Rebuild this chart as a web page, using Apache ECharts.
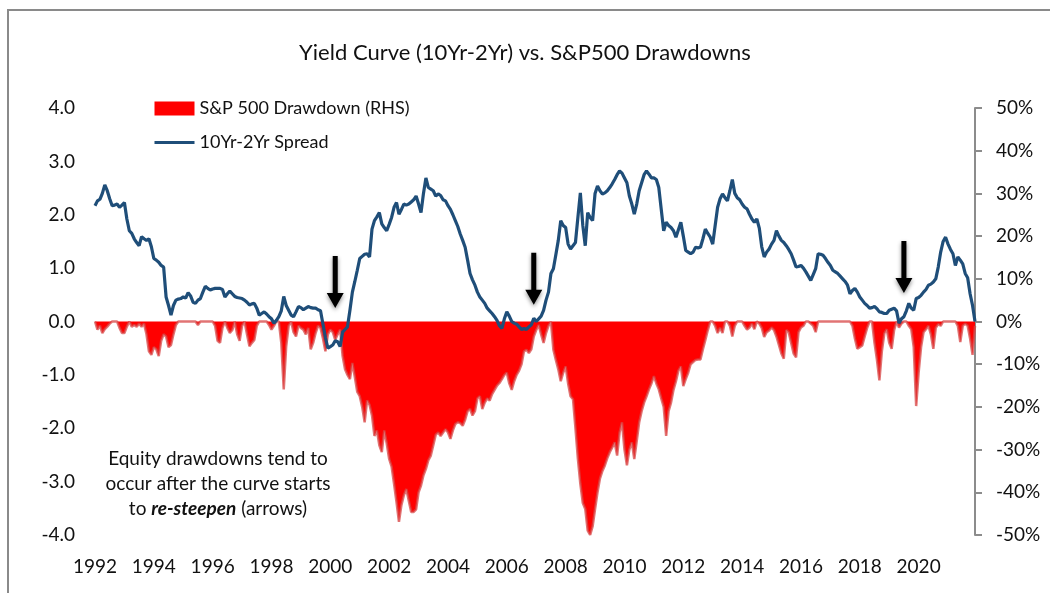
<!DOCTYPE html>
<html style="height: 100%">

<head>
    <meta charset="utf-8">
</head>

<body style="height: 100%; margin: 0">

    <div id="container" style="width: 1050px; height: 593px"></div>

    <script type="text/javascript" src="https://cdn.jsdelivr.net/npm/echarts@6/dist/echarts.min.js"></script>

    <script type="text/javascript">
        // monthly data, Jan 1992 .. Dec 2021
        var years = [1992, 1993, 1994, 1995, 1996, 1997, 1998, 1999, 2000, 2001,
            2002, 2003, 2004, 2005, 2006, 2007, 2008, 2009, 2010, 2011,
            2012, 2013, 2014, 2015, 2016, 2017, 2018, 2019, 2020, 2021];

        // 10Yr-2Yr spread (LHS)
        var spread = [
            2.17, 2.26, 2.29, 2.40, 2.56, 2.45, 2.30, 2.17, 2.18, 2.20, 2.14, 2.18, // 1992
            2.23, 1.92, 1.70, 1.65, 1.55, 1.48, 1.42, 1.59, 1.55, 1.52, 1.55, 1.40, // 1993
            1.18, 1.15, 1.11, 1.05, 1.02, 0.46, 0.30, 0.12, 0.30, 0.40, 0.42, 0.43, // 1994
            0.46, 0.44, 0.54, 0.48, 0.36, 0.34, 0.40, 0.43, 0.55, 0.66, 0.62, 0.59, // 1995
            0.61, 0.62, 0.62, 0.62, 0.60, 0.46, 0.52, 0.57, 0.52, 0.47, 0.45, 0.44, // 1996
            0.43, 0.40, 0.36, 0.31, 0.33, 0.34, 0.25, 0.12, 0.15, 0.18, 0.14, 0.09, // 1997
            0.05, -0.03, 0.02, 0.09, 0.20, 0.47, 0.30, 0.21, 0.12, 0.09, 0.18, 0.28, // 1998
            0.26, 0.22, 0.25, 0.28, 0.26, 0.25, 0.25, 0.22, 0.20, -0.05, -0.30, -0.50, // 1999
            -0.47, -0.44, -0.36, -0.38, -0.47, -0.20, -0.15, -0.10, 0.21, 0.55, 0.75, 0.96, // 2000
            1.18, 1.22, 1.26, 1.27, 1.21, 1.73, 1.89, 1.96, 2.04, 1.83, 1.76, 1.70, // 2001
            1.82, 1.95, 2.14, 2.23, 2.01, 2.10, 2.20, 2.18, 2.20, 2.24, 2.28, 2.35, // 2002
            2.20, 2.04, 2.40, 2.69, 2.51, 2.48, 2.45, 2.35, 2.39, 2.36, 2.28, 2.26, // 2003
            2.17, 2.10, 2.00, 1.89, 1.78, 1.64, 1.52, 1.39, 1.15, 0.90, 0.78, 0.68, // 2004
            0.55, 0.46, 0.40, 0.34, 0.25, 0.20, 0.15, 0.09, 0.02, -0.08, -0.13, 0.05, // 2005
            0.18, 0.10, 0.00, -0.03, -0.05, -0.10, -0.15, -0.13, -0.15, -0.10, -0.06, 0.06, // 2006
            0.00, 0.05, 0.10, 0.21, 0.40, 0.55, 0.90, 0.99, 1.25, 1.52, 1.89, 1.80, // 2007
            1.76, 1.45, 1.36, 1.42, 1.48, 1.95, 2.41, 1.80, 1.42, 2.04, 1.95, 1.89, // 2008
            2.40, 2.54, 2.45, 2.39, 2.41, 2.45, 2.51, 2.58, 2.66, 2.75, 2.82, 2.78, // 2009
            2.69, 2.60, 2.35, 2.20, 2.01, 2.20, 2.45, 2.60, 2.75, 2.82, 2.76, 2.69, // 2010
            2.69, 2.66, 2.51, 2.10, 1.70, 1.86, 1.80, 1.76, 1.70, 1.58, 1.72, 1.86, // 2011
            1.60, 1.33, 1.30, 1.27, 1.30, 1.39, 1.38, 1.39, 1.55, 1.73, 1.65, 1.58, // 2012
            1.45, 1.80, 2.14, 2.30, 2.39, 2.32, 2.26, 2.45, 2.66, 2.40, 2.32, 2.28, // 2013
            2.20, 2.14, 2.11, 2.01, 1.92, 1.86, 1.92, 1.75, 1.40, 1.21, 1.30, 1.36, // 2014
            1.45, 1.52, 1.70, 1.60, 1.52, 1.48, 1.42, 1.35, 1.27, 1.15, 1.02, 1.03, // 2015
            1.05, 1.00, 0.93, 0.85, 0.77, 0.88, 0.99, 1.27, 1.26, 1.24, 1.18, 1.11, // 2016
            1.05, 0.96, 0.93, 0.90, 0.85, 0.80, 0.75, 0.68, 0.52, 0.58, 0.62, 0.55, // 2017
            0.46, 0.40, 0.34, 0.30, 0.25, 0.26, 0.28, 0.24, 0.18, 0.17, 0.15, 0.15, // 2018
            0.21, 0.23, 0.25, 0.20, -0.03, 0.05, 0.09, 0.20, 0.34, 0.25, 0.21, 0.43, // 2019
            0.45, 0.49, 0.55, 0.60, 0.68, 0.70, 0.74, 0.80, 1.02, 1.30, 1.50, 1.58, // 2020
            1.45, 1.35, 1.27, 1.05, 1.21, 1.15, 1.08, 0.90, 0.82, 0.52, 0.30, 0.00  // 2021
        ];

        // S&P 500 drawdown in % (RHS)
        var drawdown = [
            0, -1.9, -1.0, -2.7, -1.8, -1.2, -0.5, 0, 0, 0, -1.5, -2.7, // 1992
            -2.7, -1.2, 0, -1.2, -0.8, -1.2, -0.5, -1.2, -0.5, -3.0, -7.0, -7.8, // 1993
            -6.0, -6.5, -8.1, -4.5, -3.0, -3.5, -6.0, -5.5, -3.0, -0.8, 0, 0, // 1994
            0, 0, 0, 0, 0, 0, -0.8, 0, 0, 0, 0, 0, // 1995
            0, -1.0, -4.5, -5.0, -1.5, 0, -1.5, -2.7, -2.0, 0, -3.0, -4.5, // 1996
            -1.0, 0, -3.0, -5.8, -5.0, -4.3, -1.0, 0, 0, 0, 0, -0.8, // 1997
            -1.9, -1.0, 0, 0, -5.0, -15.9, -5.8, -1.0, 0, -2.5, -3.5, -1.0, // 1998
            -1.5, -1.9, -3.0, -1.5, -6.5, -5.0, -2.7, -1.0, -1.5, -4.0, -7.0, -3.0, // 1999
            -1.9, -2.5, -4.3, -3.0, -1.9, -8.0, -11.2, -12.5, -13.5, -9.7, -13.0, -16.5, // 2000
            -17.5, -20.0, -23.6, -18.5, -19.5, -22.0, -26.8, -25.5, -29.0, -30.6, -25.5, -28.5, // 2001
            -32.2, -34.0, -38.0, -42.3, -46.9, -43.0, -40.7, -39.2, -42.0, -44.6, -44.6, -44.0, // 2002
            -40.0, -38.4, -36.0, -34.5, -32.5, -31.4, -29.0, -26.5, -26.0, -26.8, -26.0, -25.2, // 2003
            -26.0, -27.5, -25.5, -24.0, -23.6, -23.8, -24.4, -23.0, -21.0, -20.5, -22.0, -21.0, // 2004
            -18.0, -17.5, -20.5, -19.0, -18.0, -18.5, -17.0, -16.0, -15.0, -14.4, -13.5, -12.5, // 2005
            -12.0, -14.5, -16.0, -14.0, -12.5, -11.5, -10.0, -7.0, -6.6, -7.4, -6.5, -3.5, // 2006
            -2.0, -0.8, -3.0, -5.0, -2.7, -1.0, 0, -6.6, -9.0, -11.2, -14.0, -12.0, // 2007
            -10.5, -14.5, -17.5, -18.2, -25.0, -32.2, -38.0, -42.5, -43.9, -49.0, -50.0, -48.0, // 2008
            -43.9, -40.0, -36.8, -35.0, -33.7, -32.0, -30.6, -29.5, -28.3, -31.4, -26.0, -23.6, // 2009
            -30.0, -33.7, -30.0, -28.3, -32.2, -28.0, -23.6, -21.0, -19.0, -17.5, -15.9, -14.5, // 2010
            -12.8, -14.5, -15.9, -18.0, -20.0, -26.8, -21.0, -19.0, -16.0, -14.0, -11.5, -10.5, // 2011
            -15.1, -13.5, -12.0, -10.0, -9.5, -9.0, -8.9, -8.9, -6.5, -4.3, -2.0, 0, // 2012
            0, -1.0, -2.7, -1.5, -2.7, 0, 0, -1.0, -3.5, -1.0, 0, 0, // 2013
            0, -1.0, -1.9, -1.4, -0.5, -1.8, 0, -0.5, -1.5, -3.6, -2.5, -2.1, // 2014
            -1.4, -2.0, -3.5, -5.5, -7.5, -8.7, -2.0, -2.5, -5.0, -7.5, -8.4, -2.5, // 2015
            -1.4, -1.0, 0, 0, -0.5, -1.0, -2.5, 0, 0, 0, 0, 0, // 2016
            0, 0, 0, 0, 0, 0, 0, 0, 0, -1.0, -4.0, -6.4, // 2017
            -6.0, -5.6, -3.5, -1.5, 0, 0, -5.0, -9.0, -13.8, -7.0, -2.8, -1.8, // 2018
            -5.0, -6.4, -2.0, 0, -1.4, -0.5, 0, 0, -1.0, -1.8, -6.0, -19.8, // 2019
            -12.0, -6.0, -2.5, -1.8, -1.0, -3.0, -6.4, -1.5, -0.6, -1.0, 0, 0, // 2020
            0, 0, 0, 0, -1.0, -4.8, -1.0, -0.5, -1.0, -4.0, -7.8, -1.0  // 2021
        ];

        // where the "re-steepen" arrows sit: [month index, spread level]
        var arrows = [[98, 0.74], [179, 0.80], [330, 1.02]];

        var months = [];
        years.forEach(function (y) {
            for (var m = 1; m <= 12; m++) months.push(y + '-' + (m < 10 ? '0' + m : m));
        });

        var font = 'Lato, "Open Sans", sans-serif';
        var arrowPath = 'path://M6,0 L11,0 L11,37 L17,37 L8.5,52 L0,37 L6,37 Z';

        var dom = document.getElementById("container");
        var myChart = echarts.init(dom);

        var option = {
            animation: false,
            backgroundColor: '#fff',
            textStyle: { fontFamily: font, color: '#000' },
            title: {
                text: 'Yield Curve (10Yr-2Yr) vs. S&P500 Drawdowns',
                left: 'center',
                top: 37,
                textStyle: { fontFamily: font, fontSize: 22, fontWeight: 'normal', color: '#111' }
            },
            legend: {
                orient: 'vertical',
                left: 148,
                top: 93,
                itemWidth: 40,
                itemHeight: 14,
                itemGap: 13,
                textStyle: { fontFamily: font, fontSize: 18, color: '#111', lineHeight: 21 },
                data: [
                    { name: 'S&P 500 Drawdown (RHS)', icon: 'rect' },
                    { name: '10Yr-2Yr Spread', itemStyle: { opacity: 0 }, lineStyle: { width: 3 } }
                ]
            },
            grid: { left: 95, right: 75, top: 108, bottom: 58 },
            xAxis: {
                type: 'category',
                data: months,
                boundaryGap: false,
                axisLine: { show: false },
                axisTick: { show: false },
                axisLabel: {
                    interval: 23,
                    margin: 22,
                    fontSize: 19,
                    color: '#111',
                    formatter: function (v) { return v.slice(0, 4); }
                }
            },
            yAxis: [{
                type: 'value',
                min: -4,
                max: 4,
                interval: 1,
                axisLine: { show: false },
                axisTick: { show: false },
                splitLine: { show: false },
                axisLabel: {
                    margin: 20,
                    fontSize: 19,
                    color: '#111',
                    formatter: function (v) { return v.toFixed(1); }
                }
            }, {
                type: 'value',
                min: -50,
                max: 50,
                interval: 10,
                position: 'right',
                axisLine: { show: true, lineStyle: { color: '#8c8c8c', width: 2 } },
                axisTick: { show: true, length: 7, lineStyle: { color: '#8c8c8c', width: 2 } },
                splitLine: { show: false },
                axisLabel: {
                    margin: 21,
                    fontSize: 19,
                    color: '#111',
                    formatter: '{value}%'
                }
            }],
            series: [{
                name: 'S&P 500 Drawdown (RHS)',
                type: 'line',
                yAxisIndex: 1,
                data: drawdown,
                symbol: 'none',
                itemStyle: { color: '#ff0000' },
                lineStyle: { color: 'rgba(215,70,70,0.75)', width: 2.5 },
                areaStyle: { color: '#ff0000', opacity: 1 },
                z: 2
            }, {
                name: '10Yr-2Yr Spread',
                type: 'line',
                data: spread,
                symbol: 'none',
                itemStyle: { color: '#1f4e79' },
                lineStyle: { color: '#1f4e79', width: 3.2 },
                markPoint: {
                    symbol: arrowPath,
                    symbolSize: [17, 52],
                    label: { show: false },
                    silent: true,
                    itemStyle: {
                        color: '#000',
                        shadowBlur: 4,
                        shadowColor: 'rgba(0,0,0,0.45)',
                        shadowOffsetY: 2
                    },
                    data: arrows.map(function (a) { return { coord: [months[a[0]], a[1]] }; })
                },
                z: 3
            }],
            graphic: [{
                type: 'rect',
                silent: true,
                shape: { x: 8, y: 10, width: 1100, height: 700 },
                style: { fill: 'none', stroke: '#8a8a8a', lineWidth: 2 }
            }, {
                type: 'text',
                x: 218,
                y: 446,
                silent: true,
                style: {
                    text: 'Equity drawdowns tend to\noccur after the curve starts\nto {b|re-steepen} (arrows)',
                    fontFamily: font,
                    fontSize: 19,
                    lineHeight: 25,
                    align: 'center',
                    textAlign: 'center',
                    verticalAlign: 'top',
                    fill: '#111',
                    rich: { b: { fontFamily: font, fontSize: 19, lineHeight: 25, fontWeight: 'bold', fontStyle: 'italic' } }
                }
            }]
        };

        myChart.setOption(option);
    </script>
</body>

</html>
